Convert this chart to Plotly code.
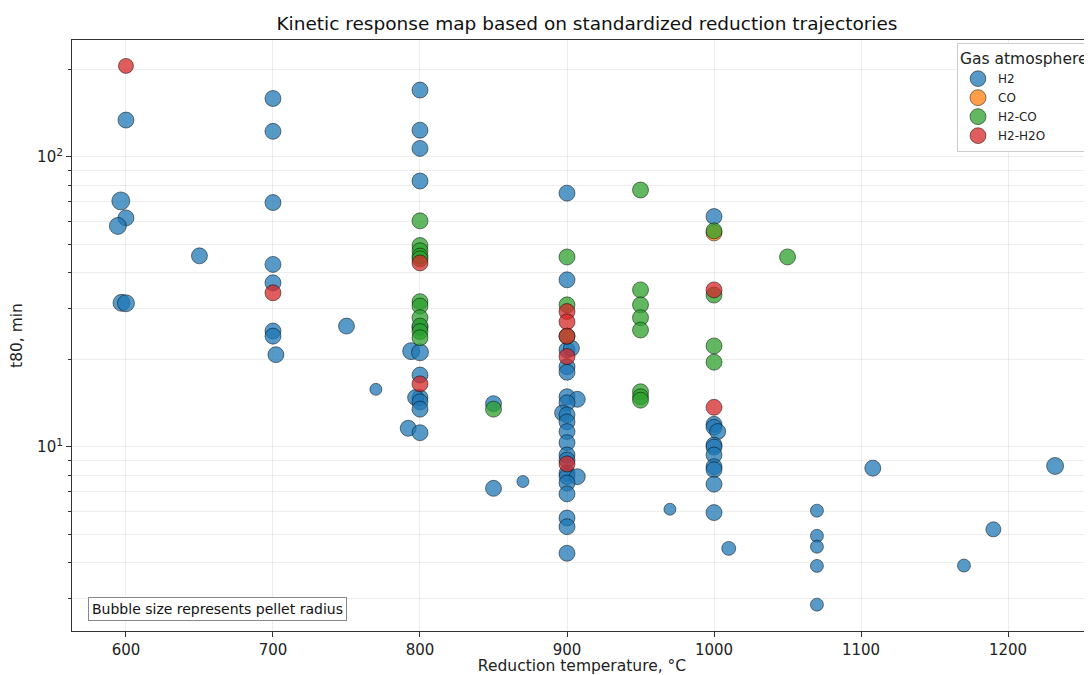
import plotly.graph_objects as go
import numpy as np

# ---------------- data ----------------
h2_temp = [600, 596.5, 600, 594.5, 597, 600, 650,
           700, 700, 700, 700, 700, 700, 700, 702, 750, 770,
           800, 800, 800, 800, 800, 794, 800, 800, 800, 797, 800, 800, 792, 800,
           850, 850, 870,
           900, 900, 900, 903, 900, 900, 900, 907, 900, 897, 900, 900, 900, 900,
           900, 900, 900, 900, 907, 900, 900, 900, 900, 900,
           970,
           1000, 1000, 1000, 1002.5, 1000, 1000, 1000, 1000, 1000, 1000, 1000,
           1010, 1070, 1070, 1070, 1070, 1070, 1108, 1170, 1190, 1232]
h2_t80 = [134, 70.5, 61.6, 57.8, 31.4, 31.3, 45.6,
          159, 122.5, 69.6, 42.6, 36.8, 25.1, 24.1, 20.8, 26.1, 15.8,
          170, 123.6, 107, 82.6, 25.8, 21.4, 21.2, 17.7, 14.8, 14.8, 14.3, 13.5, 11.6, 11.2,
          14.1, 7.2, 7.6,
          75, 37.7, 21.6, 21.9, 18.9, 18.1, 14.9, 14.6, 14.2, 13.1, 12.9, 12.2, 11.3, 10.35,
          9.38, 9.02, 8.12, 7.9, 7.9, 7.51, 6.89, 5.69, 5.31, 4.3,
          6.1,
          62.3, 11.97, 11.7, 11.3, 10.16, 9.99, 9.38, 8.55, 8.35, 7.44, 5.94,
          4.47, 6.03, 4.94, 4.53, 3.89, 2.86, 8.45, 3.9, 5.2, 8.6]
h2_radius = [8, 9, 8, 8.5, 8.5, 8.5, 8,
             8, 8, 8, 8, 8, 8, 8, 8, 8, 6,
             8, 8, 8, 8, 8, 8.5, 8.5, 8, 8, 8, 8, 8, 8, 8,
             8, 8, 6,
             8, 8, 8, 8, 8, 8, 8, 8, 8, 8, 8, 8, 8, 8,
             8, 8, 8, 8, 8, 8, 8, 8, 8, 8,
             6,
             8, 8, 8, 8, 8, 8, 8, 8, 8, 8, 8,
             7, 6.5, 6.5, 6.5, 6.5, 6.5, 8, 6.5, 7.5, 8.5]

co_temp = [1000]
co_t80 = [54.7]
co_radius = [8]

h2co_temp = [800, 800, 800, 800, 800, 800, 800, 800, 800, 800, 800,
             850, 900, 900, 900,
             950, 950, 950, 950, 950, 950, 950, 950,
             1000, 1000, 1000, 1000, 1050]
h2co_t80 = [60.2, 49.5, 47.5, 45.5, 44.5, 31.7, 30.6, 27.9, 26.1, 25.0, 23.8,
            13.5, 45.2, 30.9, 24.1,
            76.9, 34.8, 30.9, 27.9, 25.3, 15.5, 14.9, 14.5,
            55.6, 33.4, 22.3, 19.6, 45.2]
h2co_radius = [8] * len(h2co_temp)

h2h2o_temp = [600, 700, 800, 800, 900, 900, 900, 900, 900, 1000, 1000]
h2h2o_t80 = [206, 34.0, 43.1, 16.5, 29.3, 27.0, 24.1, 20.5, 8.74, 34.8, 13.7]
h2h2o_radius = [7.5, 8, 8, 8, 8, 8, 8, 8, 8, 8, 8]

groups = [
    ("H2", h2_temp, h2_t80, h2_radius, "rgba(31,119,180,0.75)"),
    ("CO", co_temp, co_t80, co_radius, "rgba(255,127,14,0.75)"),
    ("H2-CO", h2co_temp, h2co_t80, h2co_radius, "rgba(44,160,44,0.75)"),
    ("H2-H2O", h2h2o_temp, h2h2o_t80, h2h2o_radius, "rgba(214,39,40,0.75)"),
]

x_ticks = [600, 700, 800, 900, 1000, 1100, 1200]
y_major = [10, 100]
y_major_text = ["10<sup>1</sup>", "10<sup>2</sup>"]
y_minor = [3, 4, 5, 6, 7, 8, 9, 20, 30, 40, 50, 60, 70, 80, 90, 200]

# page has an 8px body margin: figure area is 1084 x 667
W, H = 1084, 667
L, R, T, B = 64, 0, 32, 44
pw, ph = W - L - R, H - T - B

fig = go.Figure()
for name, t, v, r, col in groups:
    fig.add_trace(go.Scatter(
        x=t, y=v, mode="markers", name=name,
        marker=dict(size=[2 * ri for ri in r], sizemode="diameter", color=col,
                    opacity=1,
                    line=dict(color="rgba(0,0,0,0.6)", width=0.8)),
    ))

grid = "rgba(0,0,0,0.07)"
fig.update_layout(
    width=W, height=H,
    margin=dict(l=L, r=R, t=T, b=B),
    paper_bgcolor="white", plot_bgcolor="white",
    font=dict(family="DejaVu Sans", color="#222", size=15),
    title=dict(text="Kinetic response map based on standardized reduction trajectories",
               x=579 / W, xanchor="center", y=1 - 16 / H, yanchor="middle",
               font=dict(size=18.5, color="#111")),
    legend=dict(
        title=dict(text="Gas atmosphere", font=dict(size=15.5)),
        font=dict(size=12), x=(949 - L) / pw, xanchor="left", y=1 - 3 / ph, yanchor="top",
        bgcolor="white", bordercolor="#cccccc", borderwidth=1,
        itemsizing="trace", tracegroupgap=0),
    showlegend=True,
)
fig.update_xaxes(
    range=[563.3, 1257.1], tickvals=x_ticks, ticks="outside", ticklen=5,
    tickcolor="#333", showline=True, linecolor="#333", linewidth=1.2, mirror=True,
    showgrid=True, gridcolor=grid, zeroline=False,
    title=dict(text="Reduction temperature, °C", standoff=8, font=dict(size=15.5)),
    automargin=False, tickfont=dict(size=15),
)
fig.update_yaxes(
    type="log", range=[np.log10(2.32), np.log10(253)],
    tickvals=y_major, ticktext=y_major_text, ticks="outside", ticklen=5,
    tickcolor="#333", showline=True, linecolor="#333", linewidth=1.2, mirror=False,
    showgrid=True, gridcolor=grid, zeroline=False,
    minor=dict(tickvals=y_minor, ticks="outside", ticklen=3, tickcolor="#333",
               showgrid=True, gridcolor=grid),
    title=dict(text="t80, min", standoff=12, font=dict(size=15.5)),
    automargin=False, tickfont=dict(size=15),
)
fig.add_annotation(
    text="Bubble size represents pellet radius", xref="paper", yref="paper",
    x=16 / pw, y=22 / ph, xanchor="left", yanchor="middle",
    showarrow=False, font=dict(size=14, color="#111"),
    bgcolor="white", bordercolor="#888", borderwidth=1, borderpad=3,
)
fig.write_html("out.html")
